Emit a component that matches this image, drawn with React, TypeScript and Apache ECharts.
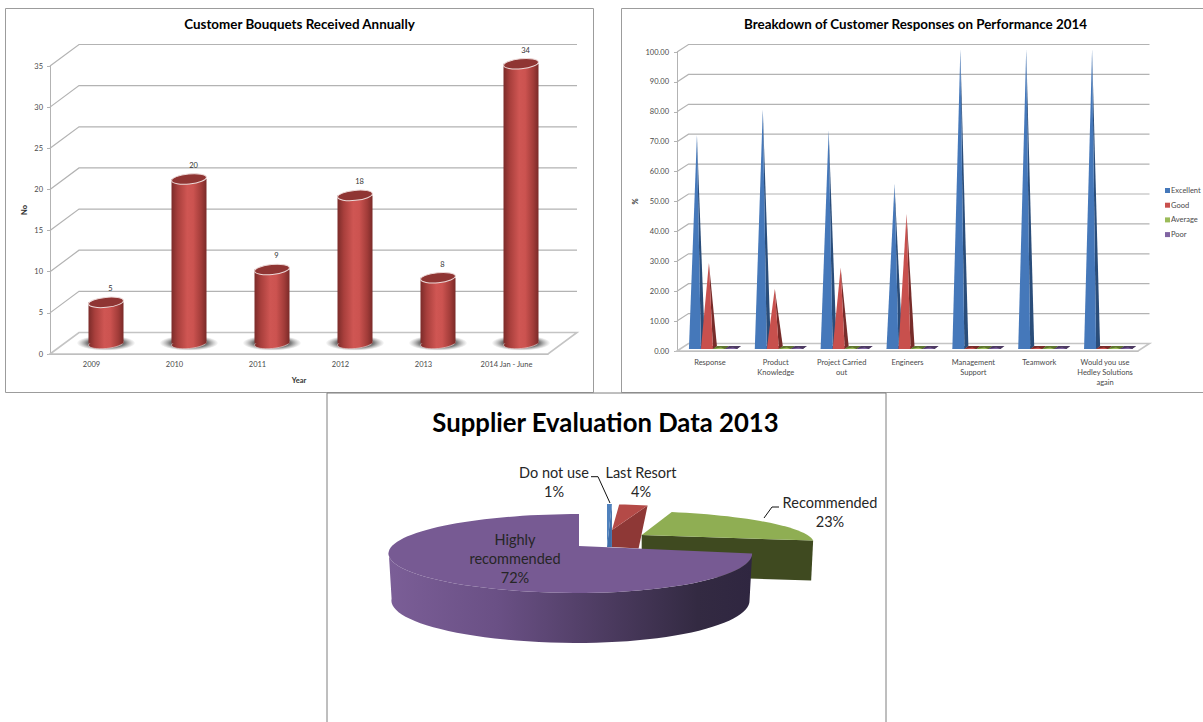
import React, { useEffect, useRef } from "react";
import * as echarts from "echarts";

const FONT = "Lato, 'Open Sans', sans-serif";

// Chart 1
const bouquetYears = ["2009", "2010", "2011", "2012", "2013", "2014 Jan - June"];
const bouquetValues = [5, 20, 9, 18, 8, 34];
const bouquetTicks = [0, 5, 10, 15, 20, 25, 30, 35];

// Chart 2
const responseCategories = [
  "Response",
  "Product\nKnowledge",
  "Project Carried\nout",
  "Engineers",
  "Management\nSupport",
  "Teamwork",
  "Would you use\nHedley Solutions\nagain",
];
const excellentValues = [71.4, 80, 73, 55, 100, 100, 100];
const goodValues = [28.6, 20, 27, 45, 0, 0, 0];
const averageValues = [0, 0, 0, 0, 0, 0, 0];
const poorValues = [0, 0, 0, 0, 0, 0, 0];
const responseTicks = [0, 10, 20, 30, 40, 50, 60, 70, 80, 90, 100];

// Chart 3
const supplierNames = ["Do not use", "Last Resort", "Recommended", "Highly\nrecommended"];
const supplierValues = [1, 4, 23, 72];

const GRAY = "#b3b3b3";
const TEXT = "#4a4a4a";

function wallSeries(name: string, ticks: number[], idx: number, dx: number, dy: number, lw: number) {
  return {
    type: "custom",
    name,
    xAxisIndex: idx,
    yAxisIndex: idx,
    z: 2,
    silent: true,
    clip: false,
    data: ticks.map((t) => [0, t]),
    renderItem: (params: any, api: any) => {
      const cs = params.coordSys;
      const y = api.coord([0, api.value(1)])[1];
      const x0 = cs.x;
      const x1 = cs.x + cs.width;
      const children: any[] = [];
      if (api.value(1) === 0) {
        children.push({
          type: "polygon",
          shape: { points: [[x0, y], [x0 + dx, y + dy], [x1 + dx, y + dy], [x1, y]] },
          style: { fill: "#fff", stroke: "#c4c4c4", lineWidth: lw + 0.4 },
        });
      } else {
        children.push({
          type: "polyline",
          shape: { points: [[x0, y], [x0 + dx, y + dy], [x1 + dx, y + dy]] },
          style: { fill: "none", stroke: GRAY, lineWidth: lw },
        });
      }
      return { type: "group", children };
    },
  };
}

function cylinderItem(params: any, api: any) {
  const c = api.coord([api.value(0), api.value(1)]);
  const b = api.coord([api.value(0), 0]);
  const ox = 14.5;
  const oy = -10.5;
  const x = c[0] + ox;
  const top = c[1] + oy;
  const base = b[1] + oy;
  const r = 17.5;
  const ry = 5;
  const tilt = 0.1;
  const grad = () =>
    new echarts.graphic.LinearGradient(0, 0, 1, 0, [
      { offset: 0, color: "#7b2b29" },
      { offset: 0.18, color: "#a83f3c" },
      { offset: 0.45, color: "#cf5653" },
      { offset: 0.62, color: "#cc5350" },
      { offset: 0.85, color: "#a23c39" },
      { offset: 1, color: "#7a2a28" },
    ]);
  return {
    type: "group",
    children: [
      {
        type: "ellipse",
        shape: { cx: x, cy: base - 0.5, rx: 29, ry: 7.5 },
        style: {
          fill: new echarts.graphic.RadialGradient(0.5, 0.5, 0.5, [
            { offset: 0, color: "#6e6e6e" },
            { offset: 0.65, color: "#7a7a7a" },
            { offset: 1, color: "rgba(170,170,170,0.05)" },
          ]),
        },
      },
      {
        type: "ellipse",
        x,
        y: base,
        rotation: tilt,
        shape: { cx: 0, cy: 0, rx: r, ry: ry },
        style: { fill: grad(), stroke: "#e8d8d8", lineWidth: 0.6 },
      },
      {
        type: "rect",
        shape: { x: x - r, y: top, width: r * 2, height: base - top },
        style: { fill: grad() },
      },
      {
        type: "ellipse",
        x,
        y: top,
        rotation: tilt,
        shape: { cx: 0, cy: 0, rx: r, ry: ry },
        style: { fill: "#8f3533", stroke: "#ecd9d8", lineWidth: 1 },
      },
      {
        type: "text",
        x: x + 4.5,
        y: top - 13.5,
        style: {
          text: String(api.value(1)),
          fontSize: 7.5,
          fontFamily: FONT,
          fill: "#333",
          align: "center",
          verticalAlign: "middle",
        },
      },
    ],
  };
}

function pyramidSeries(name: string, values: number[], sub: number, front: string, side: string) {
  return {
    type: "custom",
    name,
    xAxisIndex: 1,
    yAxisIndex: 1,
    z: 3 + sub,
    clip: false,
    silent: true,
    itemStyle: { color: front },
    data: values.map((v, i) => [i, v]),
    renderItem: (params: any, api: any) => {
      const p = api.coord([api.value(0), api.value(1)]);
      const z = api.coord([api.value(0), 0]);
      const x0 = p[0] - 21 + sub * 12;
      const w = 12;
      const by = z[1] - 2;
      const apexX = x0 + 8;
      const apexY = p[1] + (api.value(1) > 0 ? -2.5 : -3.5);
      return {
        type: "group",
        children: [
          {
            type: "polygon",
            shape: { points: [[x0, by], [x0 + w, by], [x0 + w + 4, by - 3], [x0 + 4, by - 3]] },
            style: { fill: side },
          },
          {
            type: "polygon",
            shape: { points: [[x0 + w, by], [x0 + w + 4, by - 3], [apexX, apexY]] },
            style: { fill: side },
          },
          {
            type: "polygon",
            shape: { points: [[x0, by], [x0 + w, by], [apexX, apexY]] },
            style: { fill: front },
          },
        ],
      };
    },
  };
}

// Perspective projection of the pie's rim: angle runs clockwise from the top.
const PERSP = 0.19;
function rim(a: any, deg: number) {
  const t = (deg * Math.PI) / 180;
  const X = Math.sin(t);
  const Y = Math.cos(t);
  const d = 1 + PERSP * Y;
  const rx = X >= 0 ? 170 : 187;
  return [a.ax + ((rx * X) / d) * a.sx + (a.shear || 0) * Y, a.ay - ((38 * Y) / d) * a.sy];
}

const sliceLayout = [
  { ax: 607, ay: 547, sx: 0.55, sy: 1.35, endDrop: 43, endDx: 0, apexDrop: 0, top: "#4f81bd", cut: "#3f6ea8" },
  { ax: 612, ay: 530, sx: 0.8, sy: 0.8, endDrop: 43, endDx: -9, apexDrop: 17, top: "#b44a47", cut: "#8e3836" },
  { ax: 641.7, ay: 535, sx: 0.975, sy: 0.75, shear: -14, endDrop: 40, endDx: -2, apexDrop: 40, top: "#8fae53", cut: "#3f4a20" },
  { ax: 579, ay: 546, sx: 1, sy: 1, endDrop: 0, endDx: 0, apexDrop: 0, top: "#775a93", cut: "#5f4a7a" },
];

function pieItem(params: any) {
  const i = params.dataIndex;
  const a: any = sliceLayout[i];
  const from = supplierValues.slice(0, i).reduce((s, v) => s + v, 0) * 3.6;
  const to = from + supplierValues[i] * 3.6;
  const n = Math.max(2, Math.ceil((to - from) / 3));
  const arc: number[][] = [];
  for (let k = 0; k <= n; k++) arc.push(rim(a, from + ((to - from) * k) / n));
  const apex = [a.ax, a.ay];
  const children: any[] = [];
  if (i === 3) {
    const start = arc[arc.length - 1];
    const side: number[][] = [];
    const front = arc.filter((p, k) => from + ((to - from) * k) / n <= 262);
    front.forEach((p) => side.push(p));
    front
      .slice()
      .reverse()
      .forEach((p) => {
        const rel = (p[1] - a.ay + 32) / 79;
        side.push([a.ax + (p[0] - a.ax) * 0.985, p[1] + 44 + 6 * rel]);
      });
    children.push({
      type: "polygon",
      shape: { points: side },
      style: {
        fill: new echarts.graphic.LinearGradient(0, 0, 1, 0, [
          { offset: 0, color: "#7b5e97" },
          { offset: 0.3, color: "#6a5085" },
          { offset: 0.6, color: "#4c3b60" },
          { offset: 0.85, color: "#332a42" },
          { offset: 1, color: "#2f2640" },
        ]),
      },
    });
    children.push({
      type: "polygon",
      shape: { points: [start, apex, [apex[0] - 5, apex[1]]] },
      style: { fill: a.cut },
    });
  } else {
    const e = arc[arc.length - 1];
    children.push({
      type: "polygon",
      shape: {
        points: [apex, e, [e[0] + a.endDx, e[1] + a.endDrop], [apex[0], apex[1] + a.apexDrop]],
      },
      style: { fill: a.cut },
    });
  }
  children.push({
    type: "polygon",
    shape: { points: [apex, ...arc] },
    style: { fill: a.top },
  });
  const labelPos = [
    [554, 482],
    [641, 482],
    [830, 511.5],
    [515, 558],
  ][i];
  children.push({
    type: "text",
    x: labelPos[0],
    y: labelPos[1],
    style: {
      text: `${supplierNames[i]}\n${supplierValues[i]}%`,
      fontSize: 14.5,
      lineHeight: 19,
      fontFamily: FONT,
      fill: "#262626",
      align: "center",
      verticalAlign: "middle",
    },
  });
  if (i === 0) {
    children.push({
      type: "polyline",
      shape: { points: [[591, 476.7], [598, 476.7], [610, 503]] },
      style: { fill: "none", stroke: "#111", lineWidth: 1 },
    });
  }
  if (i === 2) {
    children.push({
      type: "polyline",
      shape: { points: [[779, 507], [772, 507], [764, 518]] },
      style: { fill: "none", stroke: "#111", lineWidth: 1 },
    });
  }
  return { type: "group", children };
}

function axisPair(grid: number, data: string[], ticks: number[], xName: string, yName: string, yGap: number, fmt: any, margin: number, xMargin: number, fontSize: number) {
  const line = { show: true, lineStyle: { color: GRAY, width: 1 } };
  return {
    x: {
      type: "category",
      gridIndex: grid,
      data,
      boundaryGap: true,
      name: xName,
      nameLocation: "middle",
      nameGap: 22,
      nameTextStyle: { fontSize: 7.5, fontWeight: "bold", fontFamily: FONT, color: "#333" },
      axisLine: line,
      axisTick: { show: false },
      axisLabel: { interval: 0, margin: xMargin, fontSize, fontFamily: FONT, color: TEXT, lineHeight: 10 },
      splitLine: { show: false },
    },
    y: {
      type: "value",
      gridIndex: grid,
      min: ticks[0],
      max: ticks[ticks.length - 1],
      interval: ticks[1] - ticks[0],
      name: yName,
      nameLocation: "middle",
      nameGap: yGap,
      nameRotate: 90,
      nameTextStyle: { fontSize: 7.5, fontWeight: "bold", fontFamily: FONT, color: "#333" },
      axisLine: line,
      axisTick: { show: true, length: 3, lineStyle: { color: GRAY } },
      axisLabel: { margin, fontSize, fontFamily: FONT, color: TEXT, formatter: fmt },
      splitLine: { show: false },
    },
  };
}

export default function App() {
  const ref = useRef<HTMLDivElement>(null);
  useEffect(() => {
    document.body.style.margin = "0";
    const chart = echarts.init(ref.current!, null, { renderer: "svg" });
    const a1 = axisPair(0, bouquetYears, bouquetTicks, "Year", "No", 22, undefined, 7, 5, 7.5);
    const a2 = axisPair(
      1,
      responseCategories,
      responseTicks,
      "",
      "%",
      38,
      (v: number) => v.toFixed(2),
      8,
      6,
      7.5
    );
    const titleStyle = (size: number) => ({
      fontSize: size,
      fontWeight: "bold",
      fontFamily: FONT,
      color: "#000",
    });
    chart.setOption({
      animation: false,
      backgroundColor: "#fff",
      title: [
        { text: "Customer Bouquets Received Annually", left: 299.5, top: 17, padding: 0, textAlign: "center", textStyle: titleStyle(13.4) },
        { text: "Breakdown of Customer Responses on Performance 2014", left: 915.5, top: 17, padding: 0, textAlign: "center", textStyle: titleStyle(13.4) },
        { text: "Supplier Evaluation Data 2013", left: 605.5, top: 409, padding: 0, textAlign: "center", textStyle: titleStyle(25.7) },
      ],
      legend: {
        orient: "vertical",
        left: 1165,
        top: 186.5,
        padding: 0,
        itemWidth: 5,
        itemHeight: 5,
        itemGap: 6.7,
        icon: "rect",
        data: ["Excellent", "Good", "Average", "Poor"],
        textStyle: { fontSize: 7.5, fontFamily: FONT, color: TEXT, padding: [0, 0, 0, -4] },
      },
      graphic: [
        { type: "rect", shape: { x: 5.5, y: 8.5, width: 588, height: 384 }, style: { fill: "none", stroke: "#9c9c9c", lineWidth: 1 }, silent: true },
        { type: "rect", shape: { x: 621.5, y: 8.5, width: 582, height: 384 }, style: { fill: "none", stroke: "#9c9c9c", lineWidth: 1 }, silent: true },
        { type: "rect", shape: { x: 327, y: 393, width: 559, height: 340 }, style: { fill: "none", stroke: "#7f7f7f", lineWidth: 1 }, silent: true },
      ],
      grid: [
        { left: 50, top: 66, width: 498, height: 288 },
        { left: 677, top: 52, width: 461, height: 299 },
      ],
      xAxis: [a1.x, a2.x],
      yAxis: [a1.y, a2.y],
      series: [
        wallSeries("bouquet walls", bouquetTicks, 0, 29, -21.5, 1.2),
        {
          type: "custom",
          name: "Bouquets",
          xAxisIndex: 0,
          yAxisIndex: 0,
          z: 3,
          clip: false,
          silent: true,
          data: bouquetValues.map((v, i) => [i, v]),
          renderItem: cylinderItem,
        },
        wallSeries("response walls", responseTicks, 1, 11.5, -7.5, 1.2),
        pyramidSeries("Excellent", excellentValues, 0, "#4578ba", "#2a4d7a"),
        pyramidSeries("Good", goodValues, 1, "#c8504d", "#772c2a"),
        pyramidSeries("Average", averageValues, 2, "#9bbb59", "#5f7530"),
        pyramidSeries("Poor", poorValues, 3, "#8064a2", "#4d3b62"),
        {
          type: "custom",
          name: "Supplier",
          coordinateSystem: "none",
          z: 3,
          silent: true,
          data: supplierValues,
          renderItem: pieItem,
        },
      ],
    });
    return () => chart.dispose();
  }, []);
  return <div ref={ref} style={{ position: "absolute", left: 0, top: 0, width: 1203, height: 722 }} />;
}
